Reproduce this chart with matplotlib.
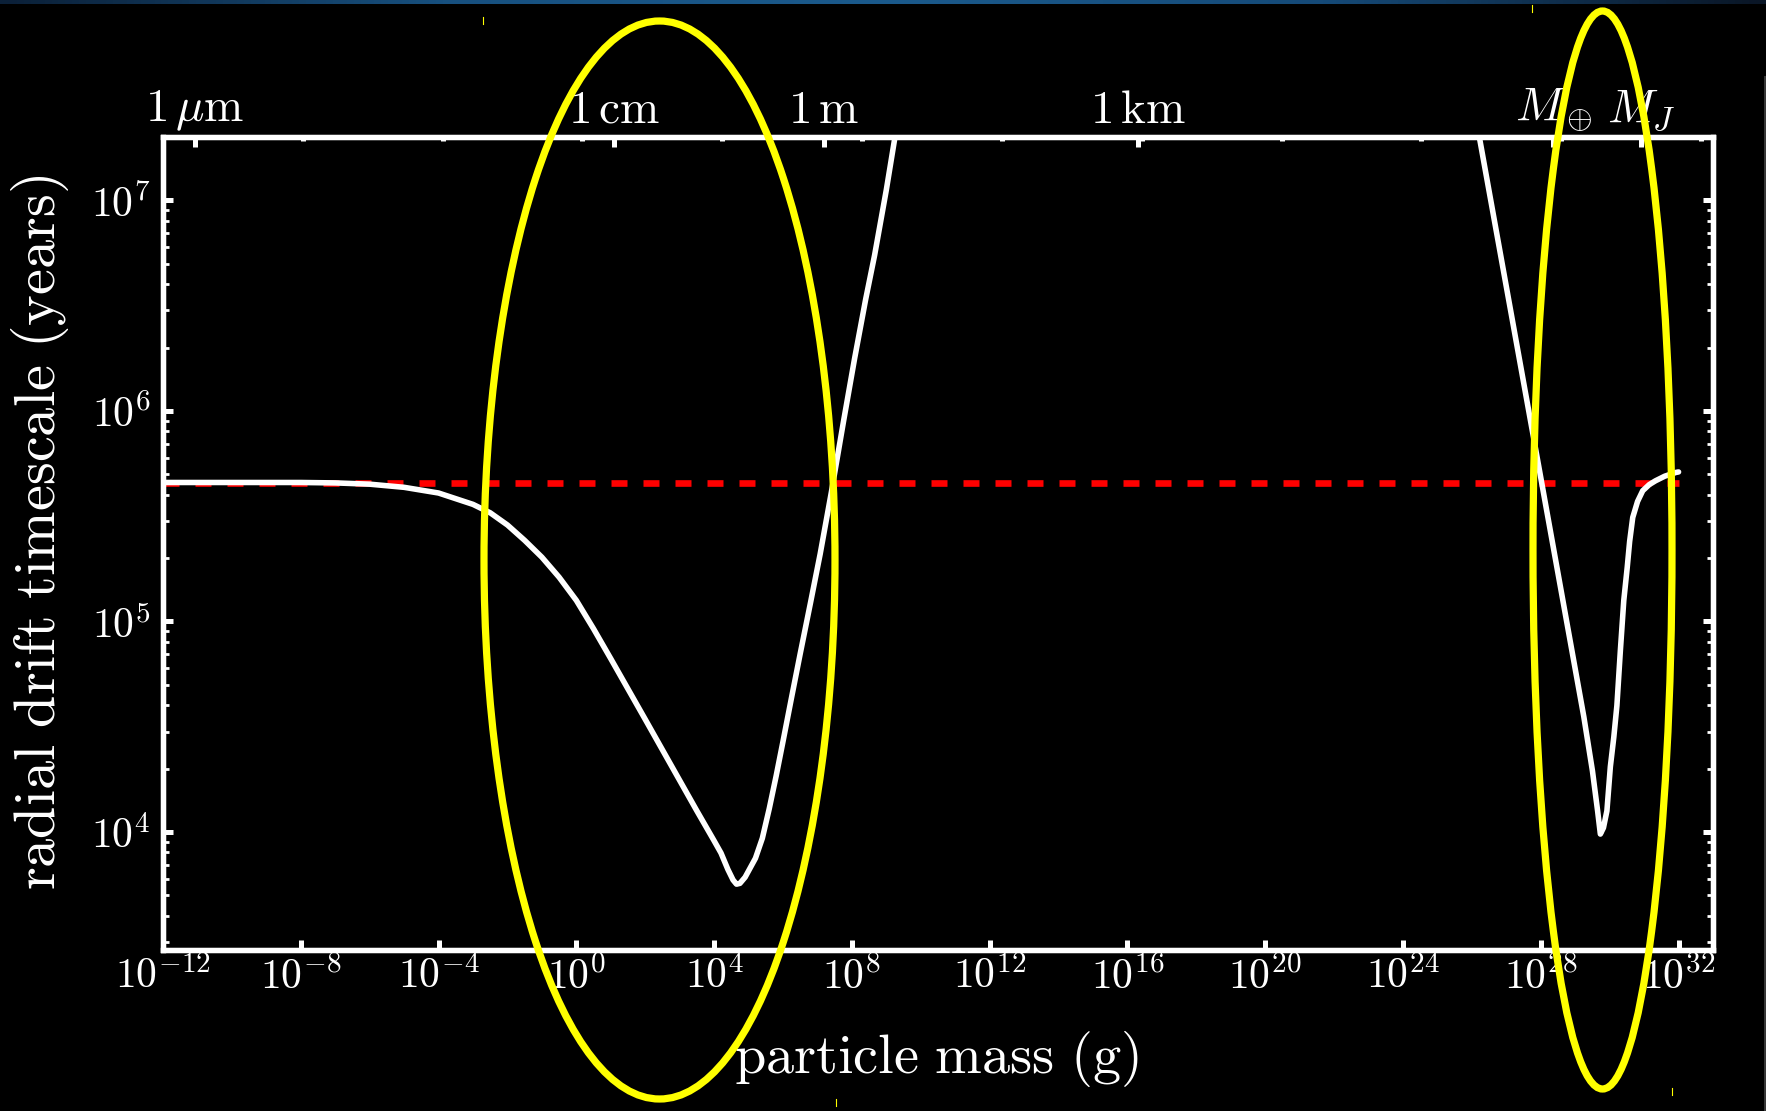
import numpy as np
import matplotlib
matplotlib.use("Agg")
import matplotlib.pyplot as plt
from matplotlib.patches import Ellipse
from matplotlib.colors import LinearSegmentedColormap
from matplotlib.ticker import (FixedLocator, FixedFormatter, FuncFormatter,
                               LogLocator, NullLocator, NullFormatter)

plt.rcParams["mathtext.fontset"] = "cm"

# ---- data -------------------------------------------------------------
# small-body branch: log10 particle mass (g) vs log10 drift timescale (yr)
log_mass_small = [-12, -8, -7, -6, -5, -4, -3, -2.5, -2, -1.5, -1, -0.5, 0,
                  0.5, 1, 1.5, 2, 2.5, 3, 3.5, 4.0, 4.2, 4.4, 4.55, 4.65,
                  4.75, 4.9, 5.05, 5.2, 5.4, 5.6, 5.8, 6.0, 6.25, 6.5, 6.8,
                  7.08, 7.4, 7.76, 8.08, 8.4, 8.66, 9.0, 9.4]
log_time_small = [5.660, 5.660, 5.658, 5.652, 5.637, 5.610, 5.556, 5.516,
                  5.458, 5.385, 5.305, 5.210, 5.100, 4.965, 4.823, 4.679,
                  4.535, 4.390, 4.245, 4.100, 3.958, 3.900, 3.822, 3.772,
                  3.752, 3.756, 3.785, 3.830, 3.875, 3.970, 4.110, 4.265,
                  4.430, 4.640, 4.847, 5.090, 5.321, 5.610, 5.953, 6.250,
                  6.530, 6.740, 7.050, 7.450]

# planetary-mass branch (type I migration regime)
log_mass_large = [26.0, 27.0, 28.0, 29.0, 29.25, 29.5, 29.65, 29.73, 29.82,
                  29.92, 30.02, 30.12, 30.21, 30.31, 30.41, 30.51, 30.58,
                  30.67, 30.81, 30.96, 31.15, 31.33, 31.6, 31.93, 32.0]
log_time_large = [7.497, 6.590, 5.683, 4.774, 4.547, 4.29, 4.10, 3.99, 4.02,
                  4.10, 4.31, 4.45, 4.60, 4.86, 5.10, 5.257, 5.38, 5.494,
                  5.57, 5.621, 5.65, 5.668, 5.69, 5.708, 5.71]

# gas (viscous) timescale reference line
gas_timescale = 4.57e5
gas_mass_span = [1e-12, 1e32]

# axes ranges and tick labels
mass_limits = [1e-12, 1e33]
top_mass_limits = [1e-12, 2.2e32]
time_limits = [2.75e3, 2.0e7]
bottom_tick_exponents = list(range(-12, 33, 4))
top_mark_exponents = list(range(-8, 33, 4))
size_labels = [r"$1\,\mu\mathrm{m}$", r"$1\,\mathrm{cm}$", r"$1\,\mathrm{m}$",
               r"$1\,\mathrm{km}$", r"$M_\oplus$", r"$M_J$"]
size_masses = [8e-12, 8.0, 8e6, 8e15, 5.97e27, 1.90e30]

xlabel_text = r"$\mathrm{particle\ mass\ (g)}$"
ylabel_text = r"$\mathrm{radial\ drift\ timescale\ (years)}$"

# ---- figure -----------------------------------------------------------
W, H = 1766, 1111
fig = plt.figure(figsize=(W / 100, H / 100), dpi=100, facecolor="black")

ax = fig.add_axes([163 / W, 1 - 950 / H, (1713 - 163) / W, (950 - 137) / H])
ax.set_facecolor("black")
ax.set_xscale("log")
ax.set_yscale("log")

ax.plot(gas_mass_span, [gas_timescale, gas_timescale], color="#ff0000",
        lw=4.8, dashes=(2.4, 2.4), zorder=2)
for lm, lt in [(log_mass_small, log_time_small),
               (log_mass_large, log_time_large)]:
    ax.plot(10.0 ** np.array(lm), 10.0 ** np.array(lt), color="white",
            lw=4.0, solid_joinstyle="round", solid_capstyle="round",
            zorder=3)

ax.set_xlim(mass_limits)
ax.set_ylim(time_limits)


def pow10(v, pos=None):
    return r"$10^{%d}$" % int(round(np.log10(v)))


ax.xaxis.set_major_locator(FixedLocator(10.0 ** np.array(bottom_tick_exponents)))
ax.xaxis.set_minor_locator(NullLocator())
ax.xaxis.set_major_formatter(FuncFormatter(pow10))
ax.yaxis.set_major_locator(LogLocator(base=10, numticks=20))
ax.yaxis.set_minor_locator(LogLocator(base=10, subs=np.arange(2, 10), numticks=20))
ax.yaxis.set_major_formatter(FuncFormatter(pow10))
ax.yaxis.set_minor_formatter(NullFormatter())

for s in ax.spines.values():
    s.set_color("white")
    s.set_linewidth(3.8)

# secondary axis: particle sizes / planet masses along the top
top = ax.twiny()
top.set_xscale("log")
top.set_xlim(top_mass_limits)
top.xaxis.set_major_locator(FixedLocator(size_masses))
top.xaxis.set_major_formatter(FixedFormatter(size_labels))
top.xaxis.set_minor_locator(FixedLocator(10.0 ** np.array(top_mark_exponents)))
top.xaxis.set_minor_formatter(NullFormatter())
for s in top.spines.values():
    s.set_color("white")
    s.set_linewidth(3.8)

ax.tick_params(axis="both", which="both", direction="in", colors="white",
               top=False, right=True)
ax.tick_params(which="major", length=7.5, width=3.6)
ax.tick_params(which="minor", length=4.5, width=2.0)
ax.tick_params(axis="x", labelsize=30, pad=4)
ax.tick_params(axis="y", labelsize=30, pad=9)

top.tick_params(axis="x", which="both", direction="in", colors="white",
                labelsize=34, pad=3)
top.tick_params(axis="x", which="major", length=7.5, width=3.6)
top.tick_params(axis="x", which="minor", length=3.0, width=3.6)

fig.text(936 / W, 1 - 1059 / H, xlabel_text, ha="center", va="center",
         size=40.5, color="white")
fig.text(40 / W, 1 - 532 / H, ylabel_text, ha="center", va="center",
         size=42, color="white", rotation=90)

# ---- slide overlay: header strip, edge line, highlight ellipses -------
ov = fig.add_axes([0, 0, 1, 1], zorder=20)
ov.patch.set_visible(False)
ov.axis("off")
strip = LinearSegmentedColormap.from_list(
    "strip", ["#0b2038", "#17507f", "#1b5a8c", "#154a78", "#0a1626"])
ov.imshow(np.linspace(0, 1, 256)[None, :], cmap=strip, aspect="auto",
          extent=(0, W, 4.5, 0), interpolation="bilinear")
ov.plot([1764.5, 1764.5], [77, H], color="#3a3a3a", lw=1.4)

hl = "#ffff00"
ov.add_patch(Ellipse((659.5, 560), 351, 1078, fill=False, ec=hl, lw=5.2))
ov.add_patch(Ellipse((1602.5, 550), 139, 1078, fill=False, ec=hl, lw=5.2))
for x0, y0, y1 in [(483, 17, 24), (836, 1099, 1106),
                   (1532, 5, 12), (1672, 1088, 1095)]:
    ov.plot([x0, x0], [y0, y1], color=hl, lw=0.8)
ov.set_xlim(0, W)
ov.set_ylim(H, 0)

fig.savefig("out.png", dpi=100, facecolor="black")
